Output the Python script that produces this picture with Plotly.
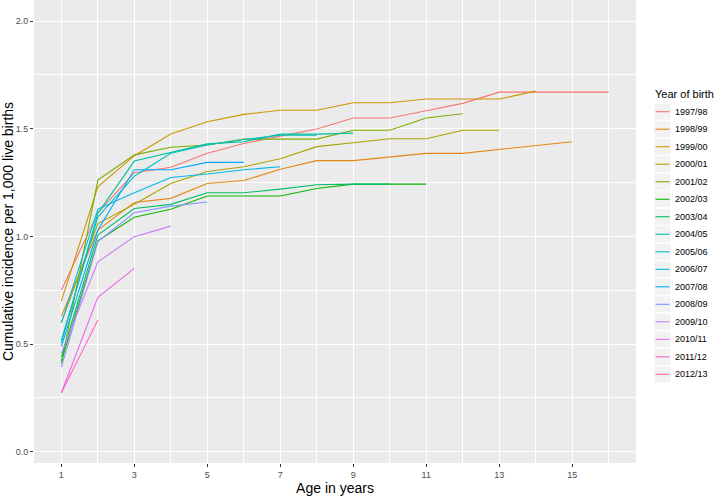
import math
import plotly.graph_objects as go

cohorts = ["1997/98", "1998/99", "1999/00", "2000/01", "2001/02", "2002/03",
           "2003/04", "2004/05", "2005/06", "2006/07", "2007/08", "2008/09",
           "2009/10", "2010/11", "2011/12", "2012/13"]

v_1997 = [0.75, 1.11, 1.296, 1.321, 1.386, 1.432, 1.466, 1.499, 1.55, 1.55, 1.584, 1.618, 1.67, 1.67, 1.67, 1.67]
v_1998 = [0.63, 1.03, 1.158, 1.177, 1.246, 1.26, 1.312, 1.352, 1.352, 1.37, 1.386, 1.386, 1.404, 1.422, 1.44]
v_1999 = [0.70, 1.231, 1.375, 1.476, 1.533, 1.567, 1.586, 1.586, 1.621, 1.621, 1.638, 1.638, 1.638, 1.675]
v_2000 = [0.60, 1.06, 1.15, 1.246, 1.302, 1.324, 1.361, 1.417, 1.435, 1.454, 1.454, 1.493, 1.493]
v_2001 = [0.41, 1.262, 1.379, 1.414, 1.425, 1.452, 1.452, 1.452, 1.493, 1.493, 1.55, 1.57]
v_2002 = [0.42, 0.98, 1.089, 1.126, 1.188, 1.188, 1.188, 1.223, 1.243, 1.243, 1.243]
v_2003 = [0.44, 1.006, 1.13, 1.149, 1.203, 1.203, 1.22, 1.24, 1.243, 1.243]
v_2004 = [0.505, 1.108, 1.35, 1.39, 1.43, 1.44, 1.475, 1.475, 1.48]
v_2005 = [0.519, 1.09, 1.28, 1.386, 1.425, 1.45, 1.47, 1.47]
v_2006 = [0.599, 1.127, 1.203, 1.274, 1.29, 1.31, 1.324]
v_2007 = [0.488, 1.03, 1.31, 1.31, 1.344, 1.344]
v_2008 = [0.393, 0.976, 1.11, 1.141, 1.16]
v_2009 = [0.458, 0.882, 0.999, 1.048]
v_2010 = [0.274, 0.717, 0.852]
v_2011 = [0.274, 0.612]
v_2012 = [0.274]

series = [v_1997, v_1998, v_1999, v_2000, v_2001, v_2002, v_2003, v_2004,
          v_2005, v_2006, v_2007, v_2008, v_2009, v_2010, v_2011, v_2012]

x_ticks = [1, 3, 5, 7, 9, 11, 13, 15]
y_ticks = [0.0, 0.5, 1.0, 1.5, 2.0]
y_tick_labels = ["0.0", "0.5", "1.0", "1.5", "2.0"]


def hcl(h, c=100.0, l=65.0):
    xn, yn, zn = 95.047, 100.0, 108.883
    un = 4 * xn / (xn + 15 * yn + 3 * zn)
    vn = 9 * yn / (xn + 15 * yn + 3 * zn)
    hr = math.radians(h)
    u = c * math.cos(hr)
    v = c * math.sin(hr)
    Y = yn * ((l + 16) / 116) ** 3 if l > 8 else yn * l / 903.3
    up = u / (13 * l) + un
    vp = v / (13 * l) + vn
    X = 9.0 * Y * up / (4 * vp)
    Z = -X / 3 - 5 * Y + 3 * Y / vp
    X, Y, Z = X / 100, Y / 100, Z / 100
    r = 3.240479 * X - 1.537150 * Y - 0.498535 * Z
    g = -0.969256 * X + 1.875992 * Y + 0.041556 * Z
    b = 0.055648 * X - 0.204043 * Y + 1.057311 * Z

    def gam(t):
        t = 12.92 * t if t <= 0.0031308 else 1.055 * max(t, 0) ** (1 / 2.4) - 0.055
        return max(0, min(255, round(t * 255)))
    return "#%02X%02X%02X" % (gam(r), gam(g), gam(b))


n = len(cohorts)
colors = [hcl(15 + 360.0 / n * i) for i in range(n)]

W, H = 714, 501
ML, MR, MT, MB = 34, 78, 0, 38
PW, PH = W - ML - MR, H - MT - MB


def px_x(px):
    return (px - ML) / PW


def px_y(py):
    return 1 - (py - MT) / PH


fig = go.Figure()
for name, vals, col in zip(cohorts, series, colors):
    fig.add_trace(go.Scatter(
        x=list(range(1, len(vals) + 1)), y=vals, mode="lines", name=name,
        showlegend=False, line=dict(color=col, width=1.1)))

# manual ggplot-style legend
shapes = []
annotations = [dict(text="Year of birth", xref="paper", yref="paper",
                    x=px_x(653), y=px_y(94), xanchor="left", yanchor="middle",
                    showarrow=False, font=dict(size=11, color="black"))]
for i, (name, col) in enumerate(zip(cohorts, colors)):
    cy = 111.7 + 17.51 * i
    shapes.append(dict(type="rect", xref="paper", yref="paper",
                       x0=px_x(654), x1=px_x(671), y0=px_y(cy - 8.5), y1=px_y(cy + 8.5),
                       fillcolor="#F2F2F2", line=dict(color="white", width=1), layer="above"))
    shapes.append(dict(type="line", xref="paper", yref="paper",
                       x0=px_x(655.5), x1=px_x(669.5), y0=px_y(cy), y1=px_y(cy),
                       line=dict(color=col, width=1.1), layer="above"))
    annotations.append(dict(text=name, xref="paper", yref="paper",
                            x=px_x(673), y=px_y(cy), xanchor="left", yanchor="middle",
                            showarrow=False, font=dict(size=9, color="black")))

fig.update_layout(
    width=W, height=H,
    margin=dict(l=ML, r=MR, t=MT, b=MB, autoexpand=False),
    paper_bgcolor="white",
    plot_bgcolor="#EBEBEB",
    font=dict(family="Liberation Sans, Arial, sans-serif", size=11, color="black"),
    showlegend=False,
    shapes=shapes,
    annotations=annotations,
    xaxis=dict(
        range=[0.25, 16.75], tickvals=x_ticks, ticktext=[str(t) for t in x_ticks],
        showgrid=True, gridcolor="white", gridwidth=1.1, zeroline=False,
        ticks="outside", ticklen=3, tickcolor="#333333", tickwidth=1,
        tickfont=dict(size=9, color="#4D4D4D"), automargin=False,
        minor=dict(tickvals=[2, 4, 6, 8, 10, 12, 14, 16], showgrid=True,
                   gridcolor="white", gridwidth=0.5, ticks=""),
        title=dict(text="Age in years", font=dict(size=14, color="black"), standoff=2),
    ),
    yaxis=dict(
        range=[-0.052, 2.098], tickvals=y_ticks, ticktext=y_tick_labels,
        showgrid=True, gridcolor="white", gridwidth=1.1, zeroline=False,
        ticks="outside", ticklen=3, tickcolor="#333333", tickwidth=1,
        tickfont=dict(size=9, color="#4D4D4D"), automargin=False,
        minor=dict(tickvals=[0.25, 0.75, 1.25, 1.75], showgrid=True,
                   gridcolor="white", gridwidth=0.5, ticks=""),
        title=dict(text="Cumulative incidence per 1,000 live births",
                   font=dict(size=14, color="black"), standoff=2),
    ),
)

fig.write_html("out.html", config={"displayModeBar": False},
               post_script="document.body.style.margin='0px';document.body.style.overflow='hidden';")
